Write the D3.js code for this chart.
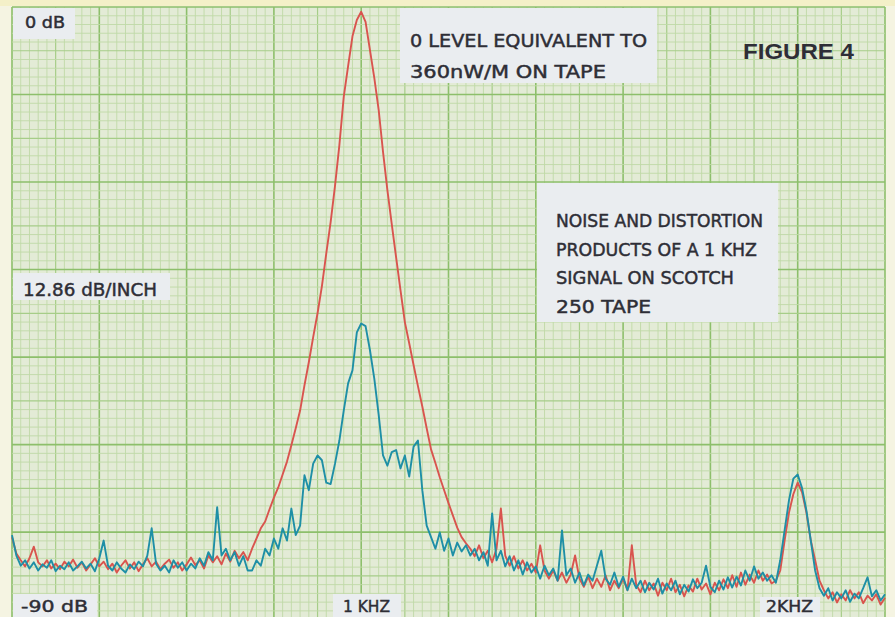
<!DOCTYPE html>
<html><head><meta charset="utf-8">
<script src="https://cdn.jsdelivr.net/npm/d3@7"></script>
<style>html,body{margin:0;padding:0;background:#f5f4e2;}svg{display:block;}</style>
</head><body>
<script>
// Frequency axis (kHz), 0.01 kHz sampling
const freqs = [0.20,0.21,0.22,0.23,0.24,0.25,0.26,0.27,0.28,0.29,
0.30,0.31,0.32,0.33,0.34,0.35,0.36,0.37,0.38,0.39,
0.40,0.41,0.42,0.43,0.44,0.45,0.46,0.47,0.48,0.49,
0.50,0.51,0.52,0.53,0.54,0.55,0.56,0.57,0.58,0.59,
0.60,0.61,0.62,0.63,0.64,0.65,0.66,0.67,0.68,0.69,
0.70,0.71,0.72,0.73,0.74,0.75,0.76,0.77,0.78,0.79,
0.80,0.81,0.82,0.83,0.84,0.85,0.86,0.87,0.88,0.89,
0.90,0.91,0.92,0.93,0.94,0.95,0.96,0.97,0.98,0.99,
1.00,1.01,1.02,1.03,1.04,1.05,1.06,1.07,1.08,1.09,
1.10,1.11,1.12,1.13,1.14,1.15,1.16,1.17,1.18,1.19,
1.20,1.21,1.22,1.23,1.24,1.25,1.26,1.27,1.28,1.29,
1.30,1.31,1.32,1.33,1.34,1.35,1.36,1.37,1.38,1.39,
1.40,1.41,1.42,1.43,1.44,1.45,1.46,1.47,1.48,1.49,
1.50,1.51,1.52,1.53,1.54,1.55,1.56,1.57,1.58,1.59,
1.60,1.61,1.62,1.63,1.64,1.65,1.66,1.67,1.68,1.69,
1.70,1.71,1.72,1.73,1.74,1.75,1.76,1.77,1.78,1.79,
1.80,1.81,1.82,1.83,1.84,1.85,1.86,1.87,1.88,1.89,
1.90,1.91,1.92,1.93,1.94,1.95,1.96,1.97,1.98,1.99,
2.00,2.01,2.02,2.03,2.04,2.05,2.06,2.07,2.08,2.09,
2.10,2.11,2.12,2.13,2.14,2.15,2.16,2.17,2.18,2.19,2.20];

// Red trace (dB)
const redDb = [-77.9,-80.3,-81.3,-82.2,-81.0,-79.3,-81.6,-82.2,-81.3,-82.5,
-81.8,-82.6,-81.5,-82.2,-81.2,-82.4,-81.6,-82.8,-81.9,-81.0,
-82.2,-81.5,-82.6,-81.8,-83.1,-82.1,-81.3,-82.5,-81.6,-82.9,
-81.9,-81.0,-82.2,-81.5,-82.6,-81.8,-81.2,-82.4,-81.6,-82.8,
-81.9,-80.9,-82.0,-81.3,-82.5,-80.6,-81.6,-80.7,-81.9,-80.3,
-81.5,-79.9,-81.0,-80.1,-81.3,-79.6,-78.1,-76.6,-75.6,-73.8,
-72.1,-70.6,-68.7,-66.8,-64.4,-61.9,-59.3,-55.6,-52.2,-48.5,
-45.0,-41.0,-36.2,-31.6,-26.3,-20.3,-13.2,-8.7,-4.3,-1.9,
-0.7,-2.2,-6.3,-10.4,-15.1,-21.3,-26.9,-31.9,-36.8,-41.6,
-46.3,-49.4,-52.6,-55.7,-58.7,-61.9,-65.0,-67.0,-69.1,-71.0,
-72.9,-74.7,-76.5,-77.9,-78.8,-79.6,-80.7,-79.1,-81.0,-79.9,
-81.6,-79.6,-73.7,-80.6,-82.1,-80.7,-82.5,-81.3,-82.8,-81.8,
-83.1,-79.1,-82.8,-84.0,-82.8,-84.3,-83.1,-84.6,-83.4,-80.6,
-84.0,-85.2,-83.7,-85.4,-84.0,-85.2,-83.5,-85.7,-84.3,-85.4,
-84.0,-85.7,-79.1,-84.9,-86.0,-84.3,-85.7,-84.7,-86.5,-84.6,
-85.7,-84.0,-86.0,-84.9,-86.6,-85.0,-85.9,-84.0,-85.6,-84.7,
-86.3,-84.6,-85.7,-84.1,-85.4,-83.5,-85.2,-83.1,-84.9,-83.4,
-84.6,-82.8,-84.3,-83.4,-84.7,-84.3,-82.8,-78.4,-74.3,-71.6,
-69.9,-71.3,-74.3,-78.4,-81.3,-84.3,-85.7,-86.9,-86.0,-87.5,
-86.3,-87.2,-85.7,-86.9,-86.0,-87.6,-86.5,-87.2,-86.3,-87.8,-86.8];

// Teal trace (dB)
const tealDb = [-77.6,-80.6,-82.1,-81.3,-82.5,-81.6,-82.8,-81.9,-82.4,-81.3,
-82.9,-82.1,-82.6,-81.6,-82.8,-82.2,-81.5,-82.5,-81.8,-82.9,
-81.0,-78.4,-82.1,-82.8,-81.6,-82.5,-83.1,-81.9,-82.6,-81.5,
-82.2,-80.6,-76.6,-81.8,-82.8,-82.1,-83.1,-81.3,-82.4,-81.6,
-82.8,-81.8,-82.5,-81.0,-82.1,-80.1,-81.3,-73.5,-80.6,-79.6,
-81.3,-80.1,-82.1,-80.7,-82.8,-82.8,-81.3,-82.1,-79.6,-80.6,
-78.1,-79.6,-76.6,-78.4,-73.7,-77.6,-76.2,-68.8,-71.0,-67.1,
-65.9,-66.6,-69.9,-70.1,-67.1,-63.7,-59.3,-55.3,-53.4,-47.8,
-46.5,-46.9,-50.4,-54.6,-59.9,-65.9,-67.4,-65.4,-65.1,-67.8,
-65.9,-69.0,-64.6,-63.7,-71.0,-76.2,-77.9,-79.6,-77.2,-79.9,
-78.1,-80.6,-78.7,-80.0,-79.1,-80.6,-79.6,-81.3,-80.1,-82.1,
-74.4,-81.3,-79.9,-82.2,-80.7,-82.8,-81.3,-83.4,-81.6,-83.1,
-82.2,-84.0,-82.1,-83.5,-82.5,-84.3,-76.9,-83.5,-82.5,-84.6,
-83.1,-85.0,-83.4,-84.3,-82.1,-79.9,-84.0,-84.9,-83.1,-85.2,
-83.7,-85.7,-84.0,-85.4,-84.3,-86.0,-84.6,-85.6,-84.0,-86.2,
-84.7,-85.7,-84.3,-86.3,-84.9,-85.9,-84.1,-85.4,-84.6,-82.1,
-85.2,-86.0,-84.3,-85.6,-83.8,-85.3,-83.7,-85.0,-82.8,-84.3,
-82.2,-84.0,-83.1,-84.3,-83.5,-84.6,-81.3,-76.9,-72.5,-69.3,
-68.7,-70.7,-74.0,-78.4,-82.8,-85.4,-86.5,-85.4,-87.2,-86.0,
-86.9,-85.7,-87.4,-86.2,-86.9,-85.4,-83.8,-86.6,-85.7,-87.2,-86.3];

const labels = {
  top: "0 dB", mid: "12.86 dB/INCH", bottom: "-90 dB",
  f1: "1 KHZ", f2: "2KHZ", figure: "FIGURE 4"
};
const refLines = ["0 LEVEL EQUIVALENT TO", "360nW/M  ON  TAPE"];
const noteLines = ["NOISE AND DISTORTION", "PRODUCTS  OF A 1 KHZ", "SIGNAL ON SCOTCH", "250  TAPE"];

const W = 895, H = 617;
const svg = d3.select("body").append("svg").attr("width", W).attr("height", H);

const x = d3.scaleLinear().domain([0.2, 2.2]).range([12, 885]);
const y = d3.scaleLinear().domain([-90, 0]).range([619.5, 7]);

svg.append("rect").attr("x",0).attr("y",0).attr("width",W).attr("height",H).attr("fill","#f5f4e2");
svg.append("rect").attr("x",0).attr("y",0).attr("width",W).attr("height",6).attr("fill","#f4f0c8");
svg.append("rect").attr("x",x(0.2)).attr("y",y(0)).attr("width",x(2.2)-x(0.2)).attr("height",H-y(0))
  .attr("fill","#e3ebd6");

const grid = svg.append("g");
for (let k = 0; k <= 100; k++) {
  const f = 0.2 + k * 0.02;
  const major = k % 10 === 0, mid = k % 5 === 0;
  grid.append("line").attr("x1", x(f)).attr("x2", x(f)).attr("y1", y(0)).attr("y2", H)
    .attr("stroke", major ? "#8dbf6b" : mid ? "#a6cd88" : "#c0d9a7")
    .attr("stroke-width", major ? 1.6 : mid ? 1.2 : 0.9);
}
const dbStep = 12.86 / 10;
for (let k = 0; k <= 70; k++) {
  const d = -k * dbStep;
  const major = k % 10 === 0, mid = k % 5 === 0;
  grid.append("line").attr("x1", x(0.2)).attr("x2", x(2.2)).attr("y1", y(d)).attr("y2", y(d))
    .attr("stroke", major ? "#8dbf6b" : mid ? "#a6cd88" : "#c0d9a7")
    .attr("stroke-width", major ? 1.6 : mid ? 1.2 : 0.9);
}

const boxFill = "#eaedf0";
function box(x0, y0, w, h) {
  svg.append("rect").attr("x", x0).attr("y", y0).attr("width", w).attr("height", h).attr("fill", boxFill);
}
box(13, 8, 62, 31);
box(400, 8, 257, 75);
box(537, 183, 241, 139);
box(13, 273, 157, 27);
box(13, 594, 84, 23);
box(333, 594, 68, 23);
box(760, 597, 60, 20);

const ink = "#2e2e36";
function txt(s, x0, yb, size, len, weight) {
  const t = svg.append("text").attr("x", x0).attr("y", yb).text(s)
    .attr("font-family", weight ? "Liberation Sans, Arial, sans-serif" : "DejaVu Sans, sans-serif")
    .attr("font-size", size).attr("fill", ink)
    .attr("font-weight", weight || "normal");
  if (!weight) t.attr("stroke", ink).attr("stroke-width", 0.45);
  if (len) t.attr("textLength", len).attr("lengthAdjust", "spacingAndGlyphs");
  return t;
}
txt(labels.top, 25, 28, 15, 40);
txt(refLines[0], 410, 47, 17, 237);
txt(refLines[1], 410, 78, 17, 196);
txt(labels.figure, 743, 59, 22, 111, "bold");
noteLines.forEach((s, i) => {
  const lens = [207, 201, 178, 95];
  txt(s, 556, [227, 256, 284, 313][i], 17, lens[i]);
});
txt(labels.mid, 23, 296, 17, 134);
txt(labels.bottom, 21, 612, 16, 67);
txt(labels.f1, 343, 612, 16, 47);
txt(labels.f2, 766, 612, 15, 47);

const line = d3.line().x(d => x(d[0])).y(d => y(d[1])).curve(d3.curveLinear);
const redData = freqs.map((f, i) => [f, redDb[i]]);
const tealData = freqs.map((f, i) => [f, tealDb[i]]);
svg.append("path").datum(redData).attr("d", line).attr("fill", "none")
  .attr("stroke", "#d9544e").attr("stroke-width", 1.9).attr("stroke-linejoin", "round");
svg.append("path").datum(tealData).attr("d", line).attr("fill", "none")
  .attr("stroke", "#1e8fa6").attr("stroke-width", 1.9).attr("stroke-linejoin", "round");
</script>
</body></html>
